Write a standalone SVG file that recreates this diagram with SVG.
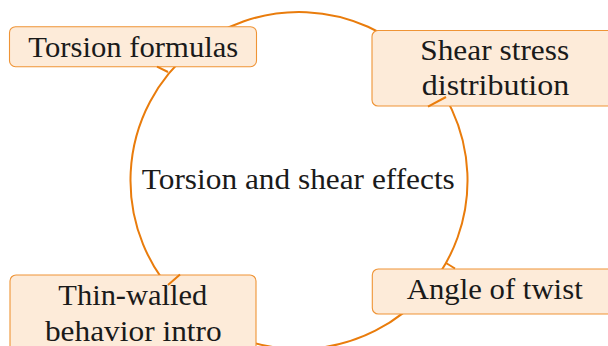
<svg xmlns="http://www.w3.org/2000/svg" width="608" height="346" viewBox="0 0 608 346">
<style>
.edge{fill:none;stroke:#e97c0c;stroke-width:2}
.barb{fill:none;stroke:#e97c0c;stroke-width:2;stroke-linecap:butt}
.box{fill:#fdebd9;stroke:#ef9436;stroke-width:1.1}
.t{font-family:"Times New Roman","Liberation Serif",Times,serif;font-size:28.5px;fill:#1a1a1a;text-anchor:middle}
</style>
<rect width="608" height="346" fill="#ffffff"/>
<g id="connectors">
<path class="edge" d="M192.4,50 A168.5,168.5 0 0 1 416.8,60"/>
<path class="edge" d="M416.8,60 A168.5,168.5 0 0 1 427.1,290"/>
<path class="edge" d="M427.1,290 A168.5,168.5 0 0 1 180.2,300"/>
<path class="edge" d="M180.2,300 A168.5,168.5 0 0 1 192.4,50"/>
</g>
<g id="center">
<text class="t" x="298.3" y="189.3" textLength="313" lengthAdjust="spacingAndGlyphs">Torsion and shear effects</text>
</g>
<g id="torsion-formulas">
<rect class="box" x="9.5" y="26.7" width="247" height="40" rx="6"/>
<text class="t" x="133.3" y="56.7" textLength="210" lengthAdjust="spacingAndGlyphs">Torsion formulas</text>
</g>
<g id="shear-stress">
<rect class="box" x="372" y="30.5" width="246" height="75.5" rx="6"/>
<text class="t" x="494.7" y="60" textLength="149" lengthAdjust="spacingAndGlyphs">Shear stress</text>
<text class="t" x="495.5" y="95" textLength="147.5" lengthAdjust="spacingAndGlyphs">distribution</text>
</g>
<g id="angle-of-twist">
<rect class="box" x="372.3" y="269" width="246" height="45" rx="6"/>
<text class="t" x="494.7" y="299.3" textLength="176" lengthAdjust="spacingAndGlyphs">Angle of twist</text>
</g>
<g id="thin-walled">
<rect class="box" x="10" y="275" width="246" height="85" rx="6"/>
<text class="t" x="132.8" y="305" textLength="149" lengthAdjust="spacingAndGlyphs">Thin-walled</text>
<text class="t" x="133.3" y="340.7" textLength="176.7" lengthAdjust="spacingAndGlyphs">behavior intro</text>
</g>
<g id="tips">
<line class="barb" x1="168" y1="72" x2="157" y2="66.7"/>
<line class="barb" x1="446" y1="97" x2="428" y2="106.7"/>
<line class="barb" x1="446" y1="263" x2="455" y2="268.5"/>
<line class="barb" x1="168" y1="285" x2="180" y2="274.5"/>
</g>
</svg>
